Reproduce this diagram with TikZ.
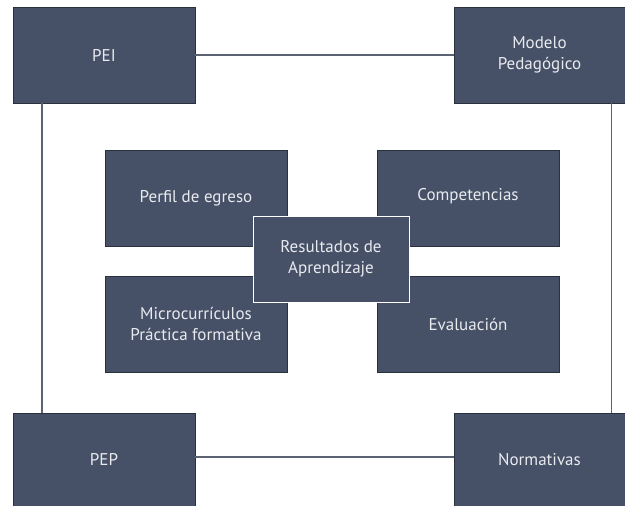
\documentclass[tikz,border=0pt]{standalone}
\usepackage{fontspec}
\setmainfont{PT Sans}
\usepackage{tikz}
\usepackage{xcolor}
\definecolor{boxfill}{HTML}{465167}
\definecolor{boxedge}{HTML}{2A303C}
\definecolor{boxtext}{HTML}{E8EAEE}
\definecolor{linkgray}{HTML}{5B6272}

\begin{document}
\begin{tikzpicture}[x=1pt,y=-1pt,
		blockbox/.style={draw=boxedge, line width=0.8pt, fill=boxfill, text=boxtext,
			align=center, font=\fontsize{17}{21.5}\selectfont, inner sep=0pt},
		corner/.style={blockbox, minimum width=182pt, minimum height=96pt},
		side/.style={blockbox, minimum width=171pt, minimum height=96pt},
		inner/.style={blockbox, minimum width=182pt, minimum height=96pt},
		core/.style={blockbox, draw=white, line width=1pt, minimum width=156pt, minimum height=86pt},
		link/.style={draw=linkgray, line width=1.8pt}]
			\useasboundingbox (0,0) rectangle (625,506);
			\fill[white] (0,0) rectangle (625,506);
			
			\node[corner] (pei) at (104,55) {PEI};
			\node[side] (modelo) at (539.5,55) {Modelo\\Pedagógico};
			\node[corner, minimum height=93pt] (pep) at (104,459.5) {PEP};
			\node[side, minimum height=93pt] (norm) at (539.5,459.5) {Normativas};
			
			\draw[link] (pei.east) -- (modelo.west);
			\draw[link] ([xshift=29pt]pei.south west) -- ([xshift=29pt]pep.north west);
			\draw[link] ([xshift=-14pt]modelo.south east) -- ([xshift=-14pt]norm.north east);
			\draw[link] ([yshift=2.5pt]pep.east) -- ([yshift=2.5pt]norm.west);
			
			\node[inner] (perfil) at (196,198) {Perfil de egreso};
			\node[inner] (comp) at (468,198) {\raisebox{7pt}{Competencias}};
			\node[inner] (micro) at (196,324) {Microcurrículos\\Práctica formativa};
			\node[inner] (eval) at (468,324) {Evaluación};
			\node[core] (res) at (331,259) {Resultados de\\Aprendizaje};
\end{tikzpicture}
\end{document}
